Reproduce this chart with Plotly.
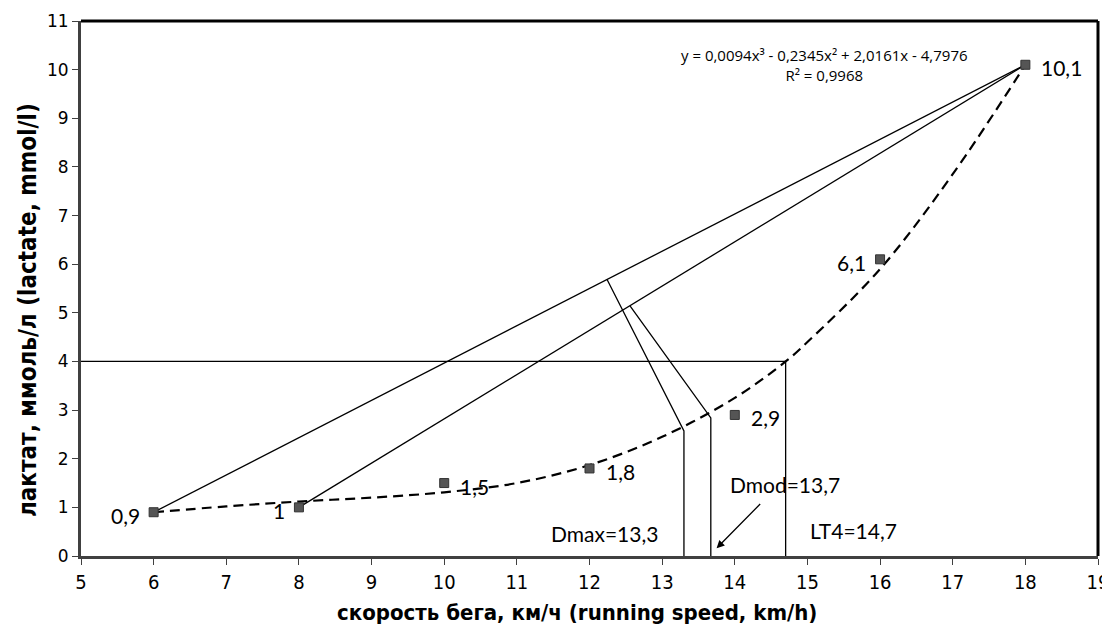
import plotly.graph_objects as go

# measured points
speed = [6, 8, 10, 12, 14, 16, 18]
lactate = [0.9, 1.0, 1.5, 1.8, 2.9, 6.1, 10.1]
point_labels = ["0,9", "1", "1,5", "1,8", "2,9", "6,1", "10,1"]
label_side = ["left", "left", "right", "right", "right", "left", "right"]

# dashed trend curve
curve_x = [6, 7, 8, 9, 10, 11, 12, 13, 14, 14.7, 15, 16, 17, 18]
curve_y = [0.9, 1.02, 1.12, 1.2, 1.31, 1.5, 1.87, 2.45, 3.25, 4.0, 4.4, 5.9, 7.85, 10.1]

# Dmax / Dmod construction
dmax_perp_x = [12.24, 13.3]
dmax_perp_y = [5.69, 2.57]
dmod_perp_x = [12.56, 13.67]
dmod_perp_y = [5.14, 2.84]
dmax_value = 13.3
dmod_value = 13.67
lt4_value = 14.7
lt4_level = 4.0

eq_text = "y = 0,0094x³ - 0,2345x² + 2,0161x - 4,7976<br>R² = 0,9968"
x_title = "<b>скорость бега, км/ч (running speed, km/h)</b>"
y_title = "<b>лактат, ммоль/л (lactate, mmol/l)</b>"

x_ticks = list(range(5, 20))
y_ticks = list(range(0, 12))

fig = go.Figure()

line_style = dict(color="black", width=1.3)

# chords
fig.add_trace(go.Scatter(x=[speed[0], speed[-1]], y=[lactate[0], lactate[-1]], mode="lines", line=line_style, hoverinfo="skip"))
fig.add_trace(go.Scatter(x=[speed[1], speed[-1]], y=[lactate[1], lactate[-1]], mode="lines", line=line_style, hoverinfo="skip"))
# perpendiculars + verticals
fig.add_trace(go.Scatter(x=dmax_perp_x + [dmax_value], y=dmax_perp_y + [0], mode="lines", line=line_style, hoverinfo="skip"))
fig.add_trace(go.Scatter(x=dmod_perp_x + [dmod_value], y=dmod_perp_y + [0], mode="lines", line=line_style, hoverinfo="skip"))
# LT4
fig.add_trace(go.Scatter(x=[5, lt4_value, lt4_value], y=[lt4_level, lt4_level, 0], mode="lines", line=line_style, hoverinfo="skip"))
# dashed curve
fig.add_trace(go.Scatter(x=curve_x, y=curve_y, mode="lines", line=dict(color="black", width=2.2, dash="10px,6px", shape="spline"), hoverinfo="skip"))
# points
fig.add_trace(go.Scatter(x=speed, y=lactate, mode="markers",
                         marker=dict(symbol="square", size=9, color="#555555", line=dict(color="#333333", width=1)),
                         hoverinfo="skip"))

label_font = dict(family="Lato, Open Sans, sans-serif", size=21, color="black")
for xv, yv, t, side in zip(speed, lactate, point_labels, label_side):
    fig.add_annotation(x=xv, y=yv, text=t, showarrow=False, font=label_font,
                       xanchor="right" if side == "left" else "left",
                       xshift=-12 if side == "left" else 14, yshift=-3)

fig.add_annotation(x=12.21, y=0.47, text="Dmax=13,3", showarrow=False, font=label_font, xanchor="center")
fig.add_annotation(x=14.69, y=1.46, text="Dmod=13,7", showarrow=False, font=label_font, xanchor="center")
fig.add_annotation(x=15.64, y=0.53, text="LT4=14,7", showarrow=False, font=label_font, xanchor="center")
# arrow
fig.add_annotation(x=13.75, y=0.16, ax=14.37, ay=1.1, axref="x", ayref="y", text="", showarrow=True,
                   arrowhead=2, arrowsize=1.2, arrowwidth=1.3, arrowcolor="black")
# equation
fig.add_annotation(x=15.23, y=10.09, text=eq_text, showarrow=False,
                   font=dict(family="Open Sans, sans-serif", size=15, color="black"), align="center")

narrow = "Liberation Sans Narrow, DejaVu Sans Condensed, sans-serif"
# axis titles
fig.add_annotation(xref="paper", yref="paper", x=0.488, y=-0.105, text=x_title, showarrow=False,
                   xanchor="center", yanchor="middle", font=dict(family=narrow, size=22, color="black"))
fig.add_annotation(xref="paper", yref="paper", x=-0.052, y=0.46, text=y_title, showarrow=False, textangle=-90,
                   xanchor="center", yanchor="middle", font=dict(family=narrow, size=24, color="black"))

# top/right border
fig.add_shape(type="line", xref="paper", yref="paper", x0=0, x1=1, y0=1, y1=1, line=dict(color="black", width=3))
fig.add_shape(type="line", xref="paper", yref="paper", x0=1, x1=1, y0=0, y1=1, line=dict(color="black", width=3))

fig.update_layout(
    width=1102, height=626,
    margin=dict(l=73, r=12, t=13, b=78),
    paper_bgcolor="white", plot_bgcolor="white",
    showlegend=False,
    xaxis=dict(range=[5, 19], tickvals=x_ticks, ticktext=[str(v) for v in x_ticks], automargin=False,
               showgrid=False, zeroline=False, showline=True, linecolor="#404040", linewidth=3,
               ticks="outside", ticklen=6, tickcolor="#404040",
               tickfont=dict(family=narrow, size=20, color="black")),
    yaxis=dict(range=[0, 11], tickvals=y_ticks, ticktext=[str(v) for v in y_ticks], automargin=False,
               showgrid=False, zeroline=False, showline=True, linecolor="#404040", linewidth=3,
               ticks="outside", ticklen=6, tickcolor="#404040",
               tickfont=dict(family="DejaVu Sans, sans-serif", size=17, color="black")),
)

fig.write_html("out.html")
